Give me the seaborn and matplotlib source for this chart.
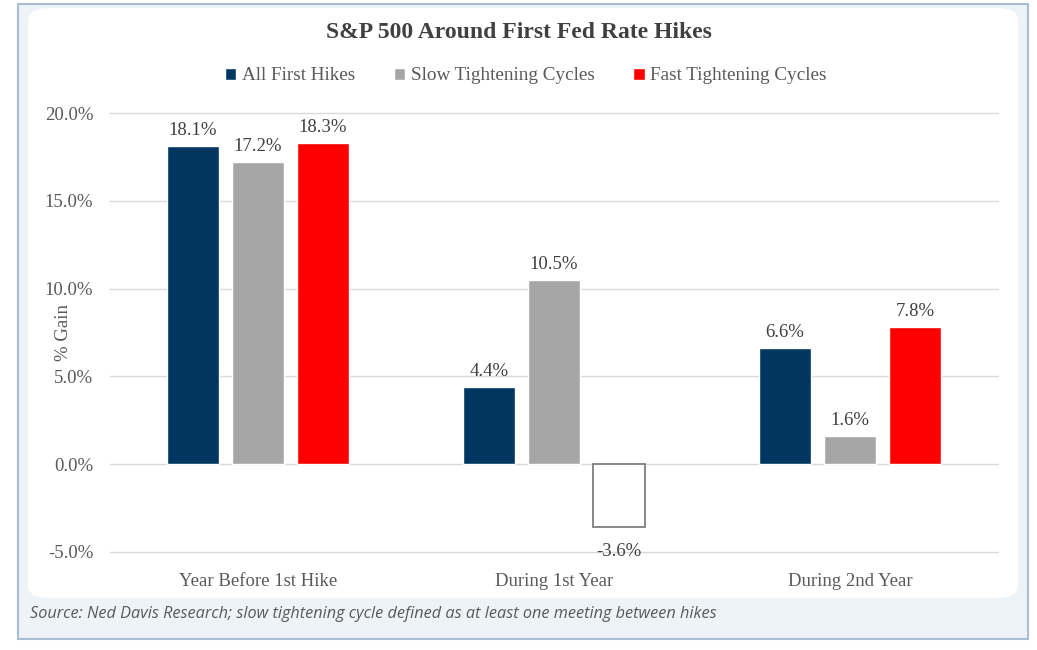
import matplotlib
matplotlib.use("Agg")
import matplotlib.pyplot as plt
from matplotlib.patches import Rectangle, FancyBboxPatch
from matplotlib.ticker import FuncFormatter, MultipleLocator
import seaborn as sns
import pandas as pd

categories = ["Year Before 1st Hike", "During 1st Year", "During 2nd Year"]
series = ["All First Hikes", "Slow Tightening Cycles", "Fast Tightening Cycles"]
all_first = [18.1, 4.4, 6.6]
slow = [17.2, 10.5, 1.6]
fast = [18.3, -3.6, 7.8]
colors = ["#00365f", "#a6a6a6", "#ff0000"]

rows = []
for s, vals in zip(series, [all_first, slow, fast]):
    for c, v in zip(categories, vals):
        rows.append({"Period": c, "Series": s, "Gain": v})
df = pd.DataFrame(rows)

sns.set_theme(style="white")
serif = ["Liberation Serif", "DejaVu Serif"]
plt.rcParams["font.family"] = serif

W, H = 1037, 650
fig = plt.figure(figsize=(W / 100, H / 100), dpi=100)

def fx(x):
    return x / W

def fy(y):
    return 1 - y / H

# frame
outer = Rectangle((fx(18), fy(639)), fx(1028) - fx(18), fy(4) - fy(639),
                  transform=fig.transFigure, facecolor="#eef3f8",
                  edgecolor="#a9bdd4", linewidth=1.5, zorder=-2)
fig.patches.append(outer)
inner = FancyBboxPatch((fx(28), fy(598)), fx(1018) - fx(28), fy(8) - fy(598),
                       boxstyle="round,pad=0,rounding_size=0.02",
                       transform=fig.transFigure, facecolor="white",
                       edgecolor="none", zorder=-1)
fig.patches.append(inner)

ax = fig.add_axes([fx(110), fy(552), fx(998) - fx(110), fy(113) - fy(552)])
ax.set_zorder(2)
ax.set_facecolor("none")

sns.barplot(data=df, x="Period", y="Gain", hue="Series", order=categories,
            hue_order=series, palette=colors, width=0.66, gap=0.2,
            saturation=1, ax=ax, legend=False, zorder=3)

ax.set_ylim(-5, 20)
ax.set_xlim(-0.5, 2.5)
ax.yaxis.set_major_locator(MultipleLocator(5))
ax.yaxis.set_major_formatter(FuncFormatter(lambda v, p: f"{v:.1f}%"))
ax.grid(axis="y", color="#d9d9d9", linewidth=1, zorder=0)
ax.set_axisbelow(True)
for gl in ax.get_ygridlines():
    gl.set_clip_on(False)
for sp in ax.spines.values():
    sp.set_visible(False)

text_color = "#595959"
fs = 13.5
ax.tick_params(axis="y", labelsize=fs, colors=text_color, length=0, pad=12)
ax.tick_params(axis="x", labelsize=fs, colors=text_color, length=0, pad=15)
ax.set_xlabel("")
ax.set_ylabel("% Gain", fontsize=fs, color=text_color, labelpad=2)
ax.yaxis.set_label_coords(-0.043, 0.5)

for container in ax.containers:
    labels = []
    for bar in container:
        h = bar.get_height()
        if h < 0:
            bar.set_facecolor("white")
            bar.set_edgecolor("#7f7f7f")
            bar.set_linewidth(1.3)
            ax.annotate(f"{h:.1f}%", (bar.get_x() + bar.get_width() / 2, h),
                        xytext=(0, -11), textcoords="offset points",
                        ha="center", va="top", fontsize=fs, color="#404040")
            labels.append("")
        else:
            labels.append(f"{h:.1f}%")
    ax.bar_label(container, labels=labels, padding=5, fontsize=fs, color="#404040")

# title
fig.text(0.5, fy(33), "S&P 500 Around First Fed Rate Hikes", ha="center",
         va="center", fontsize=17, fontweight="bold", color="#404040")

# legend
handles = [Rectangle((0, 0), 1, 1, facecolor=c) for c in colors]
leg = fig.legend(handles, series, loc="center", bbox_to_anchor=(0.507, fy(76)),
                 ncol=3, frameon=False, fontsize=13.8, handlelength=0.6,
                 handleheight=0.6, handletextpad=0.3, columnspacing=2.0)
for t in leg.get_texts():
    t.set_color(text_color)

# source
fig.text(fx(30), fy(614), "Source: Ned Davis Research; slow tightening cycle defined as at least one meeting between hikes",
         ha="left", va="center", fontsize=11.7, style="italic", color="#595959",
         family=["Open Sans", "DejaVu Sans"])

fig.savefig("out.png", dpi=100)
